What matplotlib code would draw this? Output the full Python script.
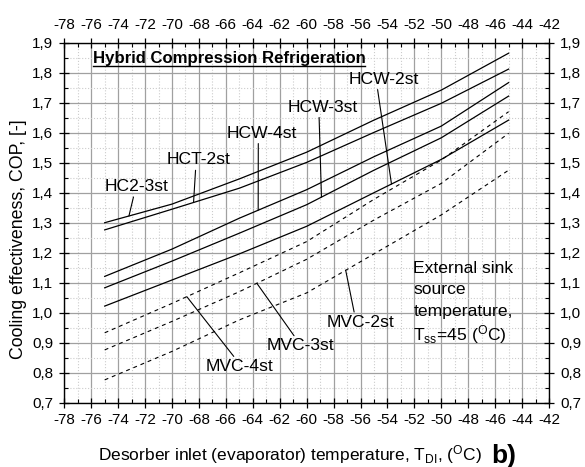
import matplotlib
matplotlib.use('Agg')
import matplotlib.pyplot as plt
import numpy as np
from matplotlib.ticker import MultipleLocator, FuncFormatter

plt.rcParams['font.family'] = ['Liberation Sans', 'DejaVu Sans']
plt.rcParams['mathtext.fontset'] = 'custom'
plt.rcParams['mathtext.rm'] = 'Liberation Sans'
plt.rcParams['mathtext.it'] = 'Liberation Sans:italic'
plt.rcParams['mathtext.bf'] = 'Liberation Sans:bold'

# ---- data ----
temps = [-75, -70, -65, -60, -55, -50, -45]
hc2_3st = [1.300, 1.362, 1.446, 1.535, 1.642, 1.742, 1.865]
hct_2st = [1.276, 1.345, 1.415, 1.501, 1.601, 1.698, 1.812]
hcw_4st = [1.121, 1.212, 1.315, 1.410, 1.520, 1.622, 1.767]
hcw_3st = [1.083, 1.172, 1.265, 1.360, 1.475, 1.583, 1.722]
hcw_2st = [1.022, 1.109, 1.196, 1.288, 1.400, 1.511, 1.642]
mvc_4st = [0.933, 1.031, 1.133, 1.237, 1.378, 1.509, 1.670]
mvc_3st = [0.876, 0.971, 1.070, 1.178, 1.309, 1.431, 1.598]
mvc_2st = [0.776, 0.871, 0.976, 1.066, 1.196, 1.326, 1.475]

solid_series = [hc2_3st, hct_2st, hcw_4st, hcw_3st, hcw_2st]
dashed_series = [mvc_4st, mvc_3st, mvc_2st]

# label: (text, series, temperature of pointer tip, text position, pointer start rel. pos)
labels = [
    ("HC2-3st", hc2_3st, -73.2, (-72.67, 1.420), (0.47, 0.0)),
    ("HCT-2st", hct_2st, -68.4, (-68.05, 1.509), (0.46, 0.0)),
    ("HCW-4st", hcw_4st, -63.6, (-63.33, 1.598), (0.45, 0.0)),
    ("HCW-3st", hcw_3st, -58.9, (-58.82, 1.685), (0.45, 0.0)),
    ("HCW-2st", hcw_2st, -53.7, (-54.29, 1.778), (0.41, 0.0)),
    ("MVC-4st", mvc_4st, -68.9, (-65.00, 0.820), (0.45, 1.0)),
    ("MVC-3st", mvc_3st, -63.7, (-60.49, 0.889), (0.44, 1.0)),
    ("MVC-2st", mvc_2st, -57.1, (-56.03, 0.968), (0.42, 1.0)),
]

W, H = 585, 467
fig = plt.figure(figsize=(W / 100, H / 100), dpi=100)
ax = fig.add_axes([64.3 / W, 1 - 402.7 / H, (549 - 64.3) / W, (402.7 - 42.7) / H])

for s in solid_series:
    ax.plot(temps, s, color='black', lw=0.9, zorder=3)
for s in dashed_series:
    ax.plot(temps, s, color='black', lw=0.8, linestyle=(0, (3.5, 3.5)), zorder=3)

ax.set_xlim(-78, -42)
ax.set_ylim(0.7, 1.9)
ax.xaxis.set_major_locator(MultipleLocator(2))
ax.xaxis.set_minor_locator(MultipleLocator(1))
ax.yaxis.set_major_locator(MultipleLocator(0.1))
ax.yaxis.set_minor_locator(MultipleLocator(0.05))
ax.xaxis.set_major_formatter(FuncFormatter(lambda v, p: f"{int(round(v))}"))
ax.yaxis.set_major_formatter(FuncFormatter(lambda v, p: f"{v:.1f}".replace('.', ',')))

ax.set_axisbelow(True)
ax.grid(which='major', color='#a0a0a0', lw=0.9, ls='-')
ax.grid(which='minor', color='#cccccc', lw=0.8, ls=':')

ax.tick_params(which='major', direction='inout', length=7, width=0.9,
               top=True, right=True, labeltop=True, labelright=True,
               labelsize=11, colors='black')
ax.tick_params(which='minor', direction='in', length=3, width=0.8,
               top=True, right=True)
ax.tick_params(axis='x', which='major', pad=4.0)
ax.tick_params(axis='y', which='major', pad=4.5)
for sp in ax.spines.values():
    sp.set_linewidth(1.0)
    sp.set_color('black')

for text, series, tip, (tx, ty), rel in labels:
    ax.annotate(text, xy=(tip, np.interp(tip, temps, series)), xytext=(tx, ty),
                ha='center', va='center', fontsize=12.6, zorder=4,
                arrowprops=dict(arrowstyle='-', color='black', lw=0.8,
                                shrinkA=0, shrinkB=0, relpos=rel))

title = ax.text(-75.89, 1.831, "Hybrid Compression Refrigeration", fontsize=12.1,
                fontweight='bold', ha='left', va='baseline', zorder=4)

ext_lines = ["External sink", "source", "temperature,",
             "T$_{\\mathrm{ss}}$=45 ($^{\\mathrm{O}}$C)"]
ext_y = [1.133, 1.061, 0.989, 0.907]
for t, y in zip(ext_lines, ext_y):
    ax.text(-52.07, y, t, fontsize=12.6, ha='left', va='baseline', zorder=4)

fig.text(97.7 / W, 1 - 460.7 / H,
         "Desorber inlet (evaporator) temperature, T$_{\\mathrm{DI}}$, ($^{\\mathrm{O}}$C)",
         fontsize=12.5, ha='left', va='baseline')
fig.text(491.7 / W, 1 - 463 / H, "b)", fontsize=19, fontweight='bold',
         ha='left', va='baseline')
fig.text(19 / W, 1 - 238.7 / H, "Cooling effectiveness, COP, [-]", rotation=90,
         fontsize=12.8, ha='center', va='center')

# underline the title
fig.canvas.draw()
r = fig.canvas.get_renderer()
bb = title.get_window_extent(r)
base_px = ax.transData.transform((-75.89, 1.831))[1]
inv = ax.transData.inverted()
(x0, yu), (x1, _) = inv.transform([(bb.x0, base_px - 2.7), (bb.x1, base_px - 2.7)])
ax.plot([x0, x1], [yu, yu], color='black', lw=1.0, clip_on=False, zorder=4)

fig.savefig('out.png', dpi=100)
